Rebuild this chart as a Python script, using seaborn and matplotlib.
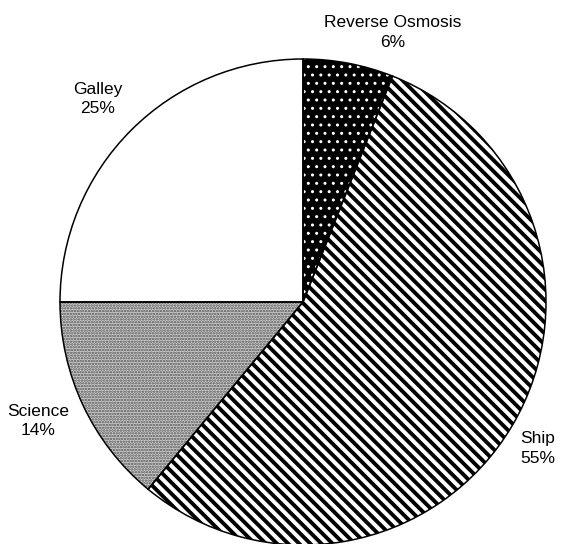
import matplotlib
matplotlib.use("Agg")
import matplotlib.pyplot as plt
import matplotlib.transforms as mtransforms
import seaborn as sns

# Water use by consumer, in percent of total
categories = ["Reverse Osmosis", "Ship", "Science", "Galley"]
shares = [6, 55, 14, 25]

# Fill styling per wedge
face_colors = ["black", "white", "#d0d0d0", "white"]
hatch_colors = ["white", "black", "#505050", "black"]
hatches = ["..", "\\\\\\", "......", ""]
hatch_widths = [1.0, 2.8, 1.2, 1.0]

# Small nudges (in pixels) for the wedge labels
label_nudges = [(36, -10), (-10, -2), (-8, 2), (-4, 2)]

sns.set_theme(style="white")
plt.rcParams["font.family"] = ["Liberation Sans", "DejaVu Sans"]

fig = plt.figure(figsize=(5.66, 5.44), dpi=100)
ax = fig.add_axes([0, 0, 1, 1])

labels = [f"{c}\n{v}%" for c, v in zip(categories, shares)]

# Filled, hatched wedges
wedges, texts = ax.pie(
    shares,
    labels=labels,
    startangle=90,
    counterclock=False,
    labeldistance=1.17,
    textprops=dict(fontsize=12.5, color="black", ha="center", linespacing=1.4),
)
for w, fc, hc, h, hw in zip(wedges, face_colors, hatch_colors, hatches, hatch_widths):
    w.set_facecolor(fc)
    w.set_edgecolor(hc)
    if hasattr(w, "set_hatchcolor"):
        w.set_hatchcolor(hc)
    w.set_linewidth(0)
    if h:
        w.set_hatch(h)
    if hasattr(w, "set_hatch_linewidth"):
        w.set_hatch_linewidth(hw)

for t, (dx, dy) in zip(texts, label_nudges):
    t.set_transform(mtransforms.offset_copy(t.get_transform(), fig=fig,
                                            x=dx, y=dy, units="dots"))

# Black outlines on top
outlines, _ = ax.pie(
    shares,
    startangle=90,
    counterclock=False,
    wedgeprops=dict(facecolor="none", edgecolor="black", linewidth=1.1),
)

ax.set_xlim(-303 / 243, 263 / 243)
ax.set_ylim(-242 / 243, 302 / 243)
ax.set_axis_off()

fig.savefig("out.png", dpi=100, facecolor="white")
